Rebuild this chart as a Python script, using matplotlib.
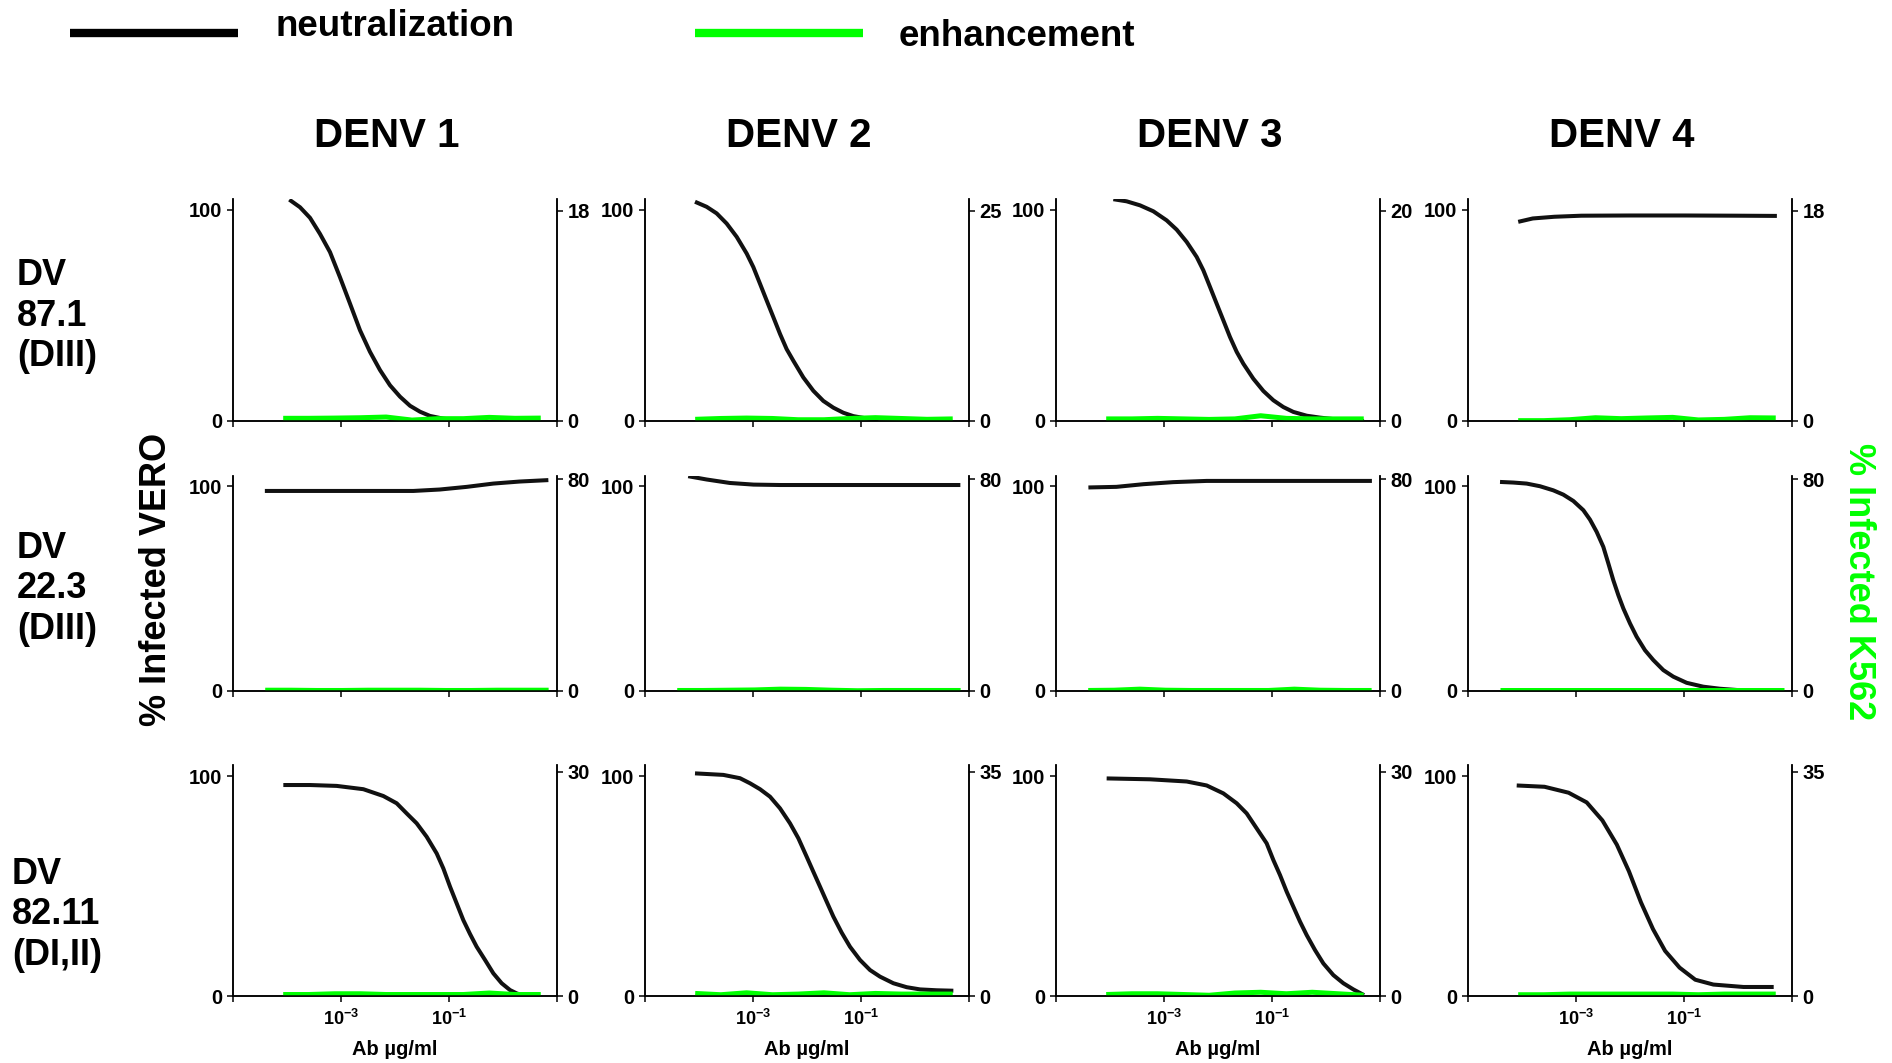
import matplotlib
matplotlib.use("Agg")
import matplotlib.pyplot as plt
from matplotlib.ticker import NullLocator
import numpy as np

plt.rcParams['font.family'] = ['Liberation Sans', 'DejaVu Sans']
plt.rcParams['font.weight'] = 'bold'
plt.rcParams['mathtext.fontset'] = 'custom'
plt.rcParams['mathtext.rm'] = 'Liberation Sans:bold'
plt.rcParams['mathtext.bf'] = 'Liberation Sans:bold'

GREEN = '#00ff00'

serotypes = ['DENV 1', 'DENV 2', 'DENV 3', 'DENV 4']
antibodies = ['DV\n87.1\n(DIII)', 'DV\n22.3\n(DIII)', 'DV\n82.11\n(DI,II)']

# antibody dilution series (ug/ml), 3-fold
conc_11 = [8.5e-5, 2.54e-4, 7.6e-4, 2.29e-3, 6.86e-3, 0.0206, 0.0617, 0.185, 0.556, 1.667, 5.0]
conc_12 = [3.95e-5, 1.19e-4, 3.56e-4, 1.07e-3, 3.2e-3, 9.6e-3, 0.0288, 0.0864, 0.259, 0.778, 2.33, 7.0]

# right axis (K562) maximum per panel
k562_max = [[18, 25, 20, 18],
            [80, 80, 80, 80],
            [30, 35, 30, 35]]

# neutralization (VERO) fitted curves: log10 conc, % infected
neut_logx_871 = [
    [-3.957, -3.759, -3.574, -3.389, -3.204, -3.019, -2.833, -2.648, -2.463, -2.278,
     -2.093, -1.907, -1.722, -1.537, -1.352, -1.105, -0.809],
    [-4.074, -3.858, -3.673, -3.488, -3.302, -3.117, -2.994, -2.870, -2.747, -2.623, -2.500,
     -2.377, -2.253, -2.068, -1.883, -1.698, -1.512, -1.327, -1.142, -0.895, -0.679],
    [-3.938, -3.691, -3.444, -3.198, -2.951, -2.765, -2.580, -2.395, -2.272, -2.148, -2.025,
     -1.901, -1.778, -1.654, -1.531, -1.346, -1.160, -0.975, -0.790, -0.605, -0.358,
     -0.111, 0.136, 0.444, 0.704],
    [-4.07, -3.80, -3.40, -2.90, -2.00, -1.00, 0.00, 0.72],
]
neut_y_871 = [
    [104.7, 101.1, 96.1, 88.5, 79.9, 68.0, 55.5, 42.9, 32.7, 24.1,
     16.9, 11.5, 7.2, 4.4, 2.4, 1.1, 0.2],
    [103.7, 101.3, 98.2, 93.4, 87.1, 79.2, 72.8, 64.9, 57.0, 49.1, 41.2,
     34.0, 28.5, 20.6, 14.3, 9.5, 6.3, 3.9, 2.3, 1.2, 0.3],
    [104.9, 103.9, 102.0, 99.2, 94.9, 90.5, 84.7, 77.6, 71.3, 63.4, 55.5,
     47.6, 39.7, 32.7, 27.1, 20.0, 14.2, 9.8, 6.6, 4.3, 2.5,
     1.6, 0.9, 0.3, 0.0],
    [94.2, 95.8, 96.6, 97.1, 97.2, 97.2, 97.1, 97.0],
]
neut_logx_223 = [
    [-4.41, -3.00, -1.66, -1.17, -0.67, -0.18, 0.31, 0.84],
    [-4.20, -3.86, -3.43, -2.99, -2.50, -1.00, 0.84],
    [-4.40, -3.88, -3.38, -2.83, -2.21, -1.00, 0.85],
    [-4.407, -4.160, -3.914, -3.667, -3.420, -3.235, -3.049, -2.864, -2.741, -2.617, -2.494,
     -2.401, -2.309, -2.216, -2.123, -2.000, -1.877, -1.722, -1.568, -1.383, -1.198,
     -0.951, -0.642, -0.333, -0.025, 0.377],
]
neut_y_223 = [
    [97.7, 97.7, 97.7, 98.4, 99.7, 101.3, 102.3, 103.0],
    [104.9, 103.3, 101.6, 100.8, 100.6, 100.6, 100.6],
    [99.4, 99.7, 101.0, 102.0, 102.6, 102.6, 102.6],
    [102.1, 101.8, 101.3, 100.0, 98.0, 95.9, 92.8, 88.3, 83.7, 77.7, 70.4,
     62.3, 54.1, 46.8, 40.3, 33.0, 26.5, 19.9, 15.1, 10.2, 7.0,
     4.0, 2.1, 1.1, 0.5, 0.0],
]
neut_logx_8211 = [
    [-4.068, -3.574, -3.080, -2.586, -2.216, -1.969, -1.784, -1.599, -1.414, -1.228, -1.105,
     -0.981, -0.858, -0.735, -0.611, -0.488, -0.333, -0.179, -0.025, 0.130, 0.253, 0.377],
    [-4.074, -3.549, -3.241, -3.056, -2.870, -2.685, -2.500, -2.315, -2.160, -2.006, -1.883,
     -1.759, -1.636, -1.512, -1.358, -1.204, -1.019, -0.833, -0.648, -0.401, -0.154,
     0.093, 0.401, 0.710],
    [-4.062, -3.259, -2.580, -2.210, -1.901, -1.654, -1.469, -1.284, -1.099, -0.975, -0.852,
     -0.728, -0.605, -0.481, -0.358, -0.204, -0.049, 0.136, 0.321, 0.506, 0.704],
    [-4.098, -3.583, -3.137, -2.802, -2.511, -2.244, -2.020, -1.796, -1.574, -1.350, -1.082,
     -0.791, -0.456, 0.102, 0.661],
]
neut_y_8211 = [
    [95.9, 95.9, 95.5, 94.0, 90.9, 87.6, 83.0, 78.5, 72.4, 64.8, 58.0,
     49.7, 42.1, 34.5, 28.2, 22.4, 16.4, 10.3, 5.8, 2.7, 1.2, 0.15],
    [101.2, 100.5, 99.0, 96.7, 94.0, 90.6, 85.3, 78.5, 71.7, 63.3, 56.5,
     49.7, 42.9, 36.1, 28.8, 22.4, 16.4, 11.8, 8.8, 5.8, 4.0,
     3.0, 2.6, 2.4],
    [98.9, 98.5, 97.5, 95.7, 92.1, 87.6, 83.0, 76.2, 69.4, 61.8, 55.0,
     47.4, 40.6, 33.8, 27.7, 20.9, 14.8, 9.5, 5.8, 3.0, 0.4],
    [95.7, 95.1, 92.4, 88.0, 79.8, 68.8, 56.7, 42.5, 30.4, 20.5, 12.9,
     7.4, 5.2, 4.1, 4.1],
]

# enhancement (K562) % infected, one value per dilution
enh_871 = [
    [0.23, 0.23, 0.25, 0.28, 0.34, 0.08, 0.20, 0.20, 0.31, 0.23, 0.25],
    [0.20, 0.30, 0.35, 0.30, 0.15, 0.15, 0.30, 0.40, 0.30, 0.20, 0.25],
    [0.20, 0.20, 0.25, 0.20, 0.15, 0.20, 0.50, 0.25, 0.20, 0.20, 0.20],
    [0.03, 0.03, 0.11, 0.28, 0.20, 0.26, 0.31, 0.09, 0.14, 0.28, 0.26],
]
enh_223 = [
    [0.3, 0.3, 0.2, 0.2, 0.3, 0.3, 0.3, 0.2, 0.2, 0.3, 0.3, 0.3],
    [0.2, 0.2, 0.3, 0.4, 0.7, 0.6, 0.3, 0.1, 0.2, 0.2, 0.2, 0.2],
    [0.2, 0.3, 0.7, 0.3, 0.2, 0.2, 0.2, 0.2, 0.7, 0.3, 0.2, 0.2],
    [0.2, 0.2, 0.2, 0.2, 0.2, 0.2, 0.2, 0.2, 0.2, 0.2, 0.2, 0.2],
]
enh_8211 = [
    [0.2, 0.2, 0.3, 0.3, 0.2, 0.2, 0.2, 0.2, 0.4, 0.2, 0.2],
    [0.4, 0.2, 0.5, 0.2, 0.3, 0.5, 0.2, 0.4, 0.3, 0.3, 0.3],
    [0.2, 0.3, 0.3, 0.2, 0.1, 0.4, 0.5, 0.3, 0.5, 0.3, 0.1],
    [0.2, 0.2, 0.3, 0.3, 0.3, 0.3, 0.3, 0.2, 0.3, 0.3, 0.3],
]

neut_logx = [neut_logx_871, neut_logx_223, neut_logx_8211]
neut_y = [neut_y_871, neut_y_223, neut_y_8211]
enh_y = [enh_871, enh_223, enh_8211]
enh_x = [conc_11, conc_12, conc_11]

# layout in pixels of the 1892x1063 canvas
W, H = 1892, 1063
col_left = [233, 645, 1056, 1468]
panel_w = 324
row_top = [199, 476, 765]
row_bot = [421, 691, 996]
right_pad = [1.056, 1.016, 1.031]

fig = plt.figure(figsize=(W / 100, H / 100), dpi=100)

for r in range(3):
    for c in range(4):
        ax = fig.add_axes([col_left[c] / W, 1 - row_bot[r] / H,
                           panel_w / W, (row_bot[r] - row_top[r]) / H])
        ax2 = ax.twinx()
        ax.plot(10 ** np.array(neut_logx[r][c]), neut_y[r][c], color='#111111', lw=2.9,
                solid_capstyle='butt', solid_joinstyle='round')
        ax2.plot(enh_x[r], enh_y[r][c], color=GREEN, lw=3.6, solid_capstyle='butt')

        ax.set_xscale('log')
        ax.set_xlim(1e-5, 1e1)
        ax.set_ylim(0, 105)
        ax2.set_ylim(0, k562_max[r][c] * right_pad[r])
        ax.set_yticks([0, 100])
        ax2.set_yticks([0, k562_max[r][c]])
        ax.set_xticks([1e-5, 1e-3, 1e-1, 1e1])
        ax.xaxis.set_minor_locator(NullLocator())
        if r == 2:
            ax.set_xticklabels(['', r'$10^{-3}$', r'$10^{-1}$', ''])
            ax.set_xlabel('Ab µg/ml', fontsize=14.5, fontweight='bold', labelpad=8)
        else:
            ax.set_xticklabels([])

        for a in (ax, ax2):
            a.spines['top'].set_visible(False)
            for s in ('left', 'right', 'bottom'):
                a.spines[s].set_linewidth(1.1)
            a.tick_params(axis='both', length=4.5, width=1.1, pad=3,
                          labelsize=14.5, direction='out')
        ax.tick_params(axis='x', labelsize=13, pad=5)

# column titles
for c, name in enumerate(serotypes):
    fig.text((col_left[c] + panel_w / 2 - 8) / W, 1 - 136 / H, name,
             fontsize=29, fontweight='bold', ha='center', va='center')

# row labels
row_label_y = [316, 589, 915]
row_label_x = [17, 17, 12]
for r, name in enumerate(antibodies):
    fig.text(row_label_x[r] / W, 1 - row_label_y[r] / H, name, fontsize=26,
             fontweight='bold', ha='left', va='center', linespacing=1.2)

fig.text(157 / W, 1 - 579 / H, '% Infected VERO', rotation=90, fontsize=26,
         fontweight='bold', ha='center', va='center')
fig.text(1858 / W, 1 - 582 / H, '% Infected K562', rotation=270, fontsize=26,
         fontweight='bold', ha='center', va='center', color=GREEN)

# legend
fig.add_artist(plt.Line2D([70 / W, 238 / W], [1 - 33 / H, 1 - 33 / H],
                          color='black', lw=6, solid_capstyle='butt'))
fig.text(275 / W, 1 - 27 / H, 'neutralization', fontsize=26.5, fontweight='bold',
         ha='left', va='center')
fig.add_artist(plt.Line2D([695 / W, 863 / W], [1 - 33 / H, 1 - 33 / H],
                          color=GREEN, lw=6, solid_capstyle='butt'))
fig.text(899 / W, 1 - 36 / H, 'enhancement', fontsize=26.5, fontweight='bold',
         ha='left', va='center')

fig.savefig('out.png', dpi=100)
